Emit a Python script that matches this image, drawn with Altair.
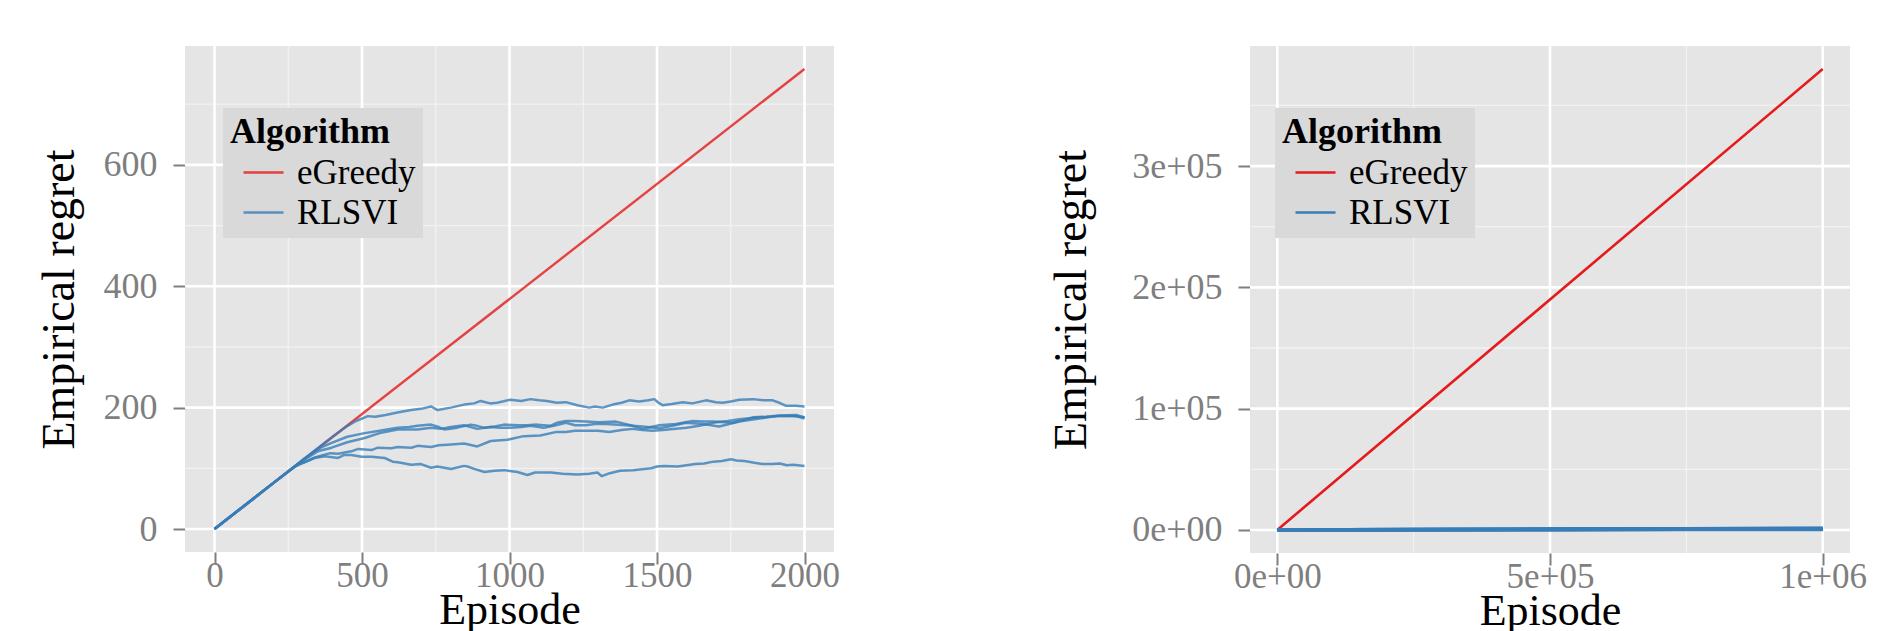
import altair as alt
import pandas as pd

# ---------------- Left panel (2000 episodes) ----------------
left_egreedy_ep = [0, 2000]
left_egreedy_val = [0, 758]

runA_ep = [0, 100, 200, 300, 400, 445, 480, 520, 545, 580, 620, 666, 700, 734, 756, 801, 846, 880, 902, 935, 958,
           1003, 1040, 1071, 1100, 1127, 1160, 1191, 1230, 1270, 1290, 1316, 1350, 1380, 1406, 1440, 1470, 1491,
           1505, 1519, 1550, 1587, 1620, 1666, 1700, 1723, 1750, 1779, 1825, 1860, 1892, 1915, 1938, 1970, 2000]
runA_val = [0, 38, 76, 114, 152, 168, 178, 186, 185, 188, 192, 196, 198, 202, 196, 200, 205, 207, 211, 207, 208,
            213, 211, 214, 212, 211, 208, 209, 204, 200, 202, 200, 205, 208, 212, 210, 212, 214,
            208, 204, 206, 209, 207, 212, 209, 208, 210, 213, 214, 212, 212, 208, 203, 203, 202]

runB_ep = [0, 100, 200, 300, 330, 360, 397, 450, 509, 560, 621, 660, 688, 734, 760, 779, 800, 823, 868, 890, 913,
           950, 981, 1026, 1060, 1093, 1138, 1160, 1191, 1222, 1259, 1304, 1361, 1417, 1451, 1480, 1508, 1564,
           1621, 1655, 1689, 1757, 1790, 1825, 1870, 1915, 1972, 2000]
runB_val = [0, 38, 76, 114, 125, 134, 142, 152, 158, 162, 167, 168, 170, 172, 168, 164, 165, 167, 172, 170, 167,
            169, 172, 171, 171, 172, 170, 175, 178, 178, 177, 176, 177, 170, 165, 168, 171, 173,
            178, 177, 177, 175, 179, 184, 185, 187, 188, 184]

runC_ep = [0, 100, 200, 300, 350, 397, 450, 509, 560, 621, 688, 734, 767, 800, 846, 891, 936, 970, 1003, 1040,
           1071, 1116, 1150, 1191, 1222, 1259, 1290, 1327, 1395, 1451, 1508, 1553, 1598, 1655, 1711, 1745, 1779,
           1847, 1904, 1972, 2000]
runC_val = [0, 38, 76, 113, 128, 134, 143, 150, 158, 164, 164, 167, 165, 168, 171, 165, 168, 167, 167, 168,
            170, 167, 170, 175, 171, 171, 173, 173, 171, 169, 166, 170, 175, 173, 169, 173, 177,
            182, 186, 186, 182]

runD_ep = [0, 100, 200, 280, 306, 340, 363, 393, 419, 464, 487, 532, 554, 599, 621, 667, 688, 734, 760, 790, 846,
           891, 936, 992, 1048, 1104, 1160, 1191, 1222, 1259, 1300, 1338, 1380, 1417, 1450, 1485, 1520, 1564,
           1600, 1643, 1700, 1740, 1779, 1847, 1915, 1960, 2000]
runD_val = [0, 38, 76, 106, 110, 118, 121, 125, 124, 128, 132, 130, 134, 133, 135, 134, 137, 135, 138, 139, 141,
            136, 145, 147, 153, 154, 160, 160, 162, 162, 162, 160, 163, 165, 163, 162, 163, 165,
            167, 170, 176, 178, 181, 184, 186, 186, 184]

runE_ep = [0, 100, 200, 270, 300, 340, 374, 419, 440, 464, 499, 532, 577, 604, 622, 667, 700, 734, 755, 802, 846,
           858, 880, 915, 950, 982, 1027, 1061, 1087, 1140, 1180, 1230, 1270, 1298, 1313, 1340, 1375, 1419, 1480,
           1500, 1525, 1570, 1600, 1630, 1660, 1691, 1720, 1751, 1770, 1796, 1830, 1857, 1890, 1917, 1940, 1962, 2000]
runE_val = [0, 38, 76, 102, 109, 117, 120, 117, 122, 122, 119, 119, 117, 111, 110, 106, 107, 101, 103, 99, 104,
            103, 99, 94, 96, 97, 94, 89, 93, 93, 91, 90, 91, 93, 87, 92, 96, 97, 100,
            103, 104, 103, 105, 107, 108, 111, 112, 115, 113, 112, 109, 107, 107, 108, 105, 106, 104]

left_x_ticks = [0, 500, 1000, 1500, 2000]
left_x_labels = ["0", "500", "1000", "1500", "2000"]
left_x_minor = [250, 750, 1250, 1750]
left_y_ticks = [0, 200, 400, 600]
left_y_labels = ["0", "200", "400", "600"]
left_y_minor = [100, 300, 500, 700]

# ---------------- Right panel (1e6 episodes) ----------------
right_egreedy_ep = [0, 1000000]
right_egreedy_val = [0, 380000]
right_rlsvi_ep = [0, 250000, 500000, 750000, 1000000]
right_run1_val = [0, 300, 500, 800, 1100]
right_run2_val = [0, 250, 450, 700, 900]
right_run3_val = [0, 350, 650, 1000, 1400]
right_run4_val = [0, 200, 400, 600, 800]
right_run5_val = [0, 150, 250, 350, 500]

right_x_ticks = [0, 500000, 1000000]
right_x_labels = ["0e+00", "5e+05", "1e+06"]
right_x_minor = [250000, 750000]
right_y_ticks = [0, 100000, 200000, 300000]
right_y_labels = ["0e+00", "1e+05", "2e+05", "3e+05"]
right_y_minor = [50000, 150000, 250000, 350000]

algorithms = ["eGreedy", "RLSVI"]
colors = ["#E41A1C", "#377EB8"]

FONT = "Liberation Serif"


def rows(eps, vals, alg, run):
    return [{"episode": e, "regret": v, "algorithm": alg, "run": run} for e, v in zip(eps, vals)]


left_rows = rows(left_egreedy_ep, left_egreedy_val, "eGreedy", "g")
for name, (e, v) in {"A": (runA_ep, runA_val), "B": (runB_ep, runB_val), "C": (runC_ep, runC_val),
                     "D": (runD_ep, runD_val), "E": (runE_ep, runE_val)}.items():
    left_rows += rows(e, v, "RLSVI", name)
left_df = pd.DataFrame(left_rows)

right_rows = rows(right_egreedy_ep, right_egreedy_val, "eGreedy", "g")
for i, v in enumerate([right_run1_val, right_run2_val, right_run3_val, right_run4_val, right_run5_val]):
    right_rows += rows(right_rlsvi_ep, v, "RLSVI", str(i))
right_df = pd.DataFrame(right_rows)


def label_expr(vals, labels):
    expr = "''"
    for v, l in reversed(list(zip(vals, labels))):
        expr = f"datum.value == {v} ? '{l}' : ({expr})"
    return expr


def panel(df, xdom, ydom, xt, xl, xm, yt, yl, ym, width, height, title_x, legend_x,
          opacity, widths):
    xs = alt.Scale(domain=xdom, nice=False, zero=False)
    ys = alt.Scale(domain=ydom, nice=False, zero=False)
    xaxis = alt.Axis(values=xt, labelExpr=label_expr(xt, xl), title="Episode",
                     titleY=71, titleBaseline="alphabetic", titleFontSize=44,
                     labelPadding=-6, labelFontSize=35)
    yaxis = alt.Axis(values=yt, labelExpr=label_expr(yt, yl), title="Empirical regret",
                     titleX=title_x, titleBaseline="alphabetic", titleFontSize=46,
                     labelPadding=16, labelFontSize=36)
    color = alt.Color("algorithm:N", scale=alt.Scale(domain=algorithms, range=colors),
                      legend=alt.Legend(orient="none", legendX=legend_x, legendY=62,
                                        title="Algorithm", fillColor="#D9D9D9", padding=7,
                                        symbolType="stroke", symbolSize=1600, symbolOffset=12,
                                        symbolStrokeWidth=2.6, symbolOpacity=opacity,
                                        labelFontSize=35, labelFont=FONT, labelColor="black",
                                        titleFontSize=36, titleFont=FONT, titleFontWeight="bold",
                                        titleColor="black", rowPadding=0, labelOffset=12,
                                        titlePadding=0))

    def rule_layer(vals, ch, c, w):
        d = pd.DataFrame({"v": vals})
        if ch == "x":
            enc = {"x": alt.X("v:Q", scale=xs, axis=xaxis)}
        else:
            enc = {"y": alt.Y("v:Q", scale=ys, axis=yaxis)}
        return alt.Chart(d).mark_rule(color=c, strokeWidth=w).encode(**enc)

    def line_layer(alg, w):
        return alt.Chart(df).transform_filter(alt.datum.algorithm == alg).mark_line(
            opacity=opacity, strokeWidth=w, strokeJoin="round").encode(
            x=alt.X("episode:Q", scale=xs, axis=xaxis),
            y=alt.Y("regret:Q", scale=ys, axis=yaxis),
            color=color,
            detail="run:N",
        )

    return alt.layer(
        rule_layer(xm, "x", "#F2F2F2", 1.3),
        rule_layer(ym, "y", "#F2F2F2", 1.3),
        rule_layer(xt, "x", "white", 2.6),
        rule_layer(yt, "y", "white", 2.6),
        line_layer("eGreedy", widths[0]),
        line_layer("RLSVI", widths[1]),
    ).properties(width=width, height=height)


left = panel(left_df, [-100, 2100], [-37.9, 795.9], left_x_ticks, left_x_labels, left_x_minor,
             left_y_ticks, left_y_labels, left_y_minor, 649, 506, -112, 38, 0.8, [2.4, 2.5])
right = panel(right_df, [-50000, 1050000], [-19000, 399000], right_x_ticks, right_x_labels, right_x_minor,
              right_y_ticks, right_y_labels, right_y_minor, 600, 507, -165, 25, 1.0, [2.6, 3.6])

chart = alt.hconcat(left, right, spacing=207).resolve_scale(
    color="independent", x="independent", y="independent"
).resolve_legend(color="independent").properties(
    padding={"left": 27, "top": 36, "right": 5, "bottom": 0}
).configure_view(fill="#E5E5E5", stroke=None).configure_axis(
    domain=False, grid=False, tickColor="#7F7F7F", tickWidth=2, tickSize=12,
    labelColor="#7F7F7F", labelFont=FONT, titleFont=FONT,
    titleFontWeight="normal", titleColor="black",
    labelFlush=False, labelOverlap=False
)

chart.save("out.html", embed_options={"renderer": "svg", "actions": False})
